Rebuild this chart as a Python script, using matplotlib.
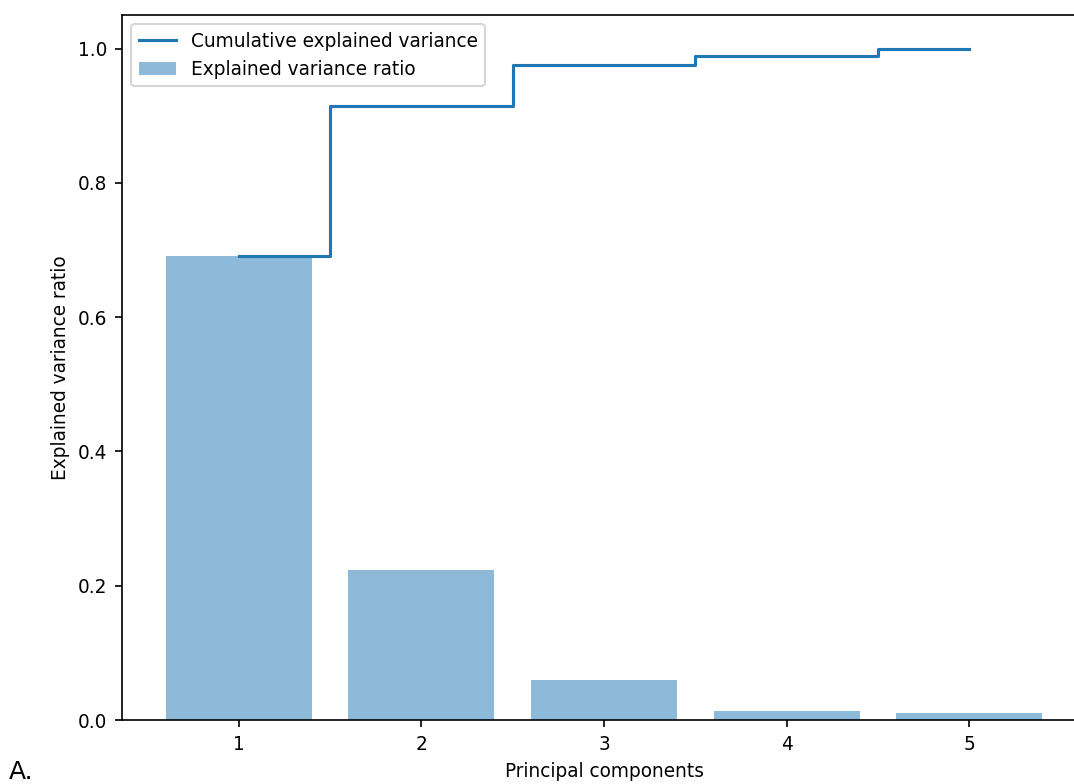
import numpy as np
import matplotlib
matplotlib.use("Agg")
import matplotlib.pyplot as plt

components = [1, 2, 3, 4, 5]
explained_ratio = [0.691, 0.223, 0.060, 0.013, 0.011]
cumulative = [0.691, 0.914, 0.975, 0.989, 1.000]

plt.rcParams['font.size'] = 8.9

fig = plt.figure(figsize=(1074 / 150, 784 / 150), dpi=150)
# the original screenshot is cut off on the right, so the axes run past the edge
ax = fig.add_axes([122 / 1074, 1 - 720 / 784, (1086 - 122) / 1074, (720 - 15) / 784])

ax.bar(components, explained_ratio, alpha=0.5, align='center', label='Explained variance ratio')
ax.step(components, cumulative, where='mid', label='Cumulative explained variance')
ax.set_ylabel('Explained variance ratio')
ax.set_xlabel('Principal components')
ax.legend(loc='upper left')

fig.text(0.008, 0.006, 'A.', fontsize=12, va='baseline')

fig.savefig('out.png', dpi=150)
